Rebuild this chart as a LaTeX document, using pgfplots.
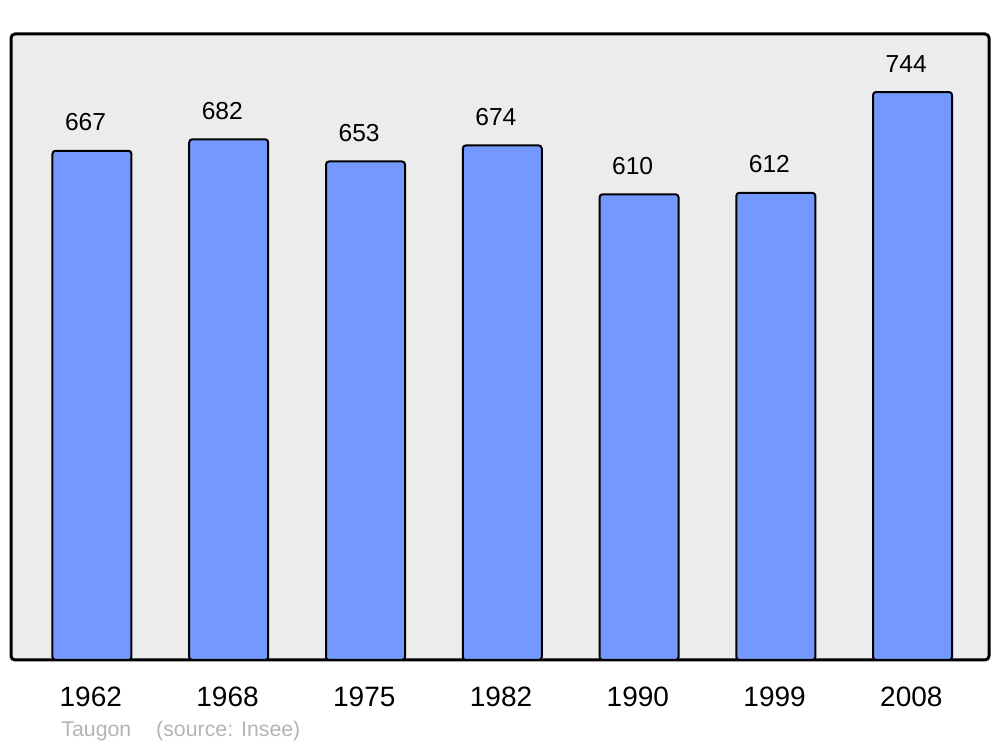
\documentclass[border=0pt]{standalone}
\usepackage{fontspec}
\setmainfont{Liberation Sans}
\usepackage{pgfplots}
\pgfplotsset{compat=1.18}
\definecolor{barblue}{HTML}{7399FF}
\definecolor{bg}{HTML}{ECECEC}
\definecolor{srcgray}{HTML}{B4B4B4}
\begin{document}
\begin{tikzpicture}
\path (-5.5pt,-43.5pt) rectangle (494.5pt,330pt);
\begin{axis}[
  at={(0pt,0pt)}, anchor=south west,
  scale only axis, width=489pt, height=313pt,
  xmin=-0.592, xmax=6.559, ymin=0, ymax=820,
  axis background/.style={fill=bg},
  axis line style={line width=1.5pt, rounded corners=2pt},
  ytick=\empty,
  xtick={0,1,2,3,4,5,6},
  xticklabels={1962,1968,1975,1982,1990,1999,2008},
  major tick length=0pt,
  xticklabel style={font=\fontsize{14pt}{16pt}\selectfont, inner sep=0pt, yshift=-13.3pt, xshift=-0.6pt},
  /pgf/number format/assume math mode=true,
  clip=false,
  ybar, bar width=39.5pt,
  nodes near coords,
  nodes near coords style={font=\fontsize{12.3pt}{14pt}\selectfont, inner sep=0pt, anchor=south, yshift=9.3pt, xshift=-3.2pt, /pgf/number format/fixed},
]
\addplot[fill=barblue, draw=black, line width=1pt, rounded corners=1.5pt] coordinates {
(0,667) (1,682) (2,653) (3,674) (4,610) (5,612) (6,744)
};
\end{axis}
\node[anchor=base west, inner sep=0pt, text=srcgray, font=\fontsize{10.65pt}{12pt}\selectfont] at (25pt,-38.5pt) {Taugon\hspace{12.5pt}(source: Insee)};
\end{tikzpicture}
\end{document}
